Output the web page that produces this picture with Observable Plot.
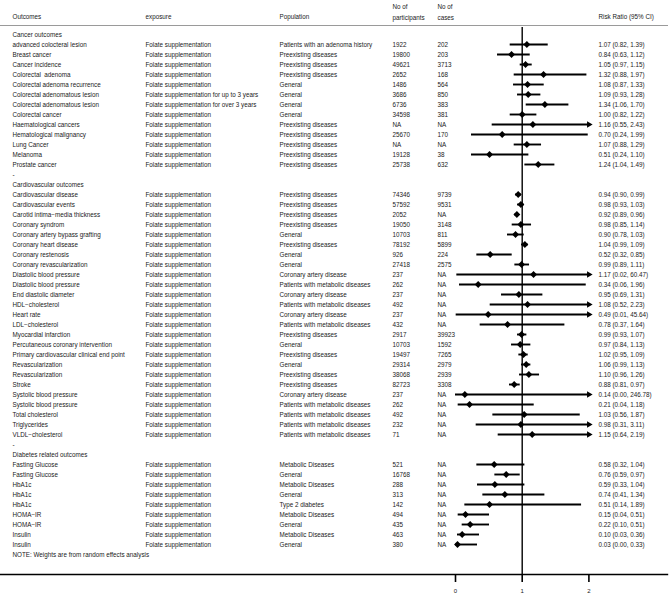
<!DOCTYPE html>
<html>
<head>
<meta charset="utf-8">
<script src="https://cdn.jsdelivr.net/npm/d3@7"></script>
<script src="https://cdn.jsdelivr.net/npm/@observablehq/plot@0.6"></script>
<style>
  html, body { margin: 0; padding: 0; background: #fff; }
  #chart svg { display: block; }
</style>
</head>
<body>
<div id="chart"></div>
<script>
const sections = ["Cancer outcomes", "Cardiovascular outcomes", "Diabetes related outcomes"];
const sectionSizes = [13, 25, 9];

const outcomes = [
  "advanced colocteral lesion", "Breast cancer", "Cancer incidence", "Colorectal  adenoma",
  "Colorectal adenoma recurrence", "Colorectal adenomatous lesion", "Colorectal adenomatous lesion",
  "Colorectal cancer", "Haematological cancers", "Hematological malignancy", "Lung Cancer",
  "Melanoma", "Prostate cancer",
  "Cardiovascular disease", "Cardiovascular events", "Carotid intima\u2212media thickness",
  "Coronary syndrom", "Coronary artery bypass grafting", "Coronary heart disease",
  "Coronary restenosis", "Coronary revascularization", "Diastolic blood pressure",
  "Diastolic blood pressure", "End diastolic diameter", "HDL\u2212cholesterol", "Heart rate",
  "LDL\u2212cholesterol", "Myocardial infarction", "Percutaneous coronary intervention",
  "Primary cardiovascular clinical end point", "Revascularization", "Revascularization",
  "Stroke", "Systolic blood pressure", "Systolic blood pressure", "Total cholesterol",
  "Triglycerides", "VLDL\u2212cholesterol",
  "Fasting Glucose", "Fasting Glucose", "HbA1c", "HbA1c", "HbA1c", "HOMA\u2212IR", "HOMA\u2212IR",
  "Insulin", "Insulin"
];

const FS = "Folate supplementation";
const exposure = [
  FS, FS, FS, FS, FS, "Folate supplementation for up to 3 years", "Folate supplementation for over 3 years",
  FS, FS, FS, FS, FS, FS,
  FS, FS, FS, FS, FS, FS, FS, FS, FS, FS, FS, FS, FS, FS, FS, FS, FS, FS, FS, FS, FS, FS, FS, FS, FS,
  FS, FS, FS, FS, FS, FS, FS, FS, FS
];

const PD = "Preexisting diseases", GE = "General", CAD = "Coronary artery disease",
      PMD = "Patients with metabolic diseases", MD = "Metabolic Diseases";
const population = [
  "Patients with an adenoma history", PD, PD, PD, GE, GE, GE, GE, PD, PD, PD, PD, PD,
  PD, PD, PD, PD, GE, PD, GE, GE, CAD, PMD, CAD, PMD, CAD, PMD, PD, GE, PD, GE, PD, PD,
  CAD, PMD, PMD, PMD, PMD,
  MD, GE, MD, GE, "Type 2 diabetes", MD, GE, MD, GE
];

const participants = [
  "1922", "19800", "49621", "2652", "1486", "3686", "6736", "34598", "NA", "25670", "NA", "19128", "25738",
  "74346", "57592", "2052", "19050", "10703", "78192", "926", "27418", "237", "262", "237", "492", "237",
  "432", "2917", "10703", "19497", "29314", "38068", "82723", "237", "262", "492", "232", "71",
  "521", "16768", "288", "313", "142", "494", "435", "463", "380"
];

const cases = [
  "202", "203", "3713", "168", "564", "850", "383", "381", "NA", "170", "NA", "38", "632",
  "9739", "9531", "NA", "3148", "811", "5899", "224", "2575", "NA", "NA", "NA", "NA", "NA",
  "NA", "39923", "1592", "7265", "2979", "2939", "3308", "NA", "NA", "NA", "NA", "NA",
  "NA", "NA", "NA", "NA", "NA", "NA", "NA", "NA", "NA"
];

const rr = [
  1.07, 0.84, 1.05, 1.32, 1.08, 1.09, 1.34, 1.00, 1.16, 0.70, 1.07, 0.51, 1.24,
  0.94, 0.98, 0.92, 0.98, 0.90, 1.04, 0.52, 0.99, 1.17, 0.34, 0.95, 1.08, 0.49, 0.78, 0.99, 0.97,
  1.02, 1.06, 1.10, 0.88, 0.14, 0.21, 1.03, 0.98, 1.15,
  0.58, 0.76, 0.59, 0.74, 0.51, 0.15, 0.22, 0.10, 0.03
];
const lower = [
  0.82, 0.63, 0.97, 0.88, 0.87, 0.93, 1.06, 0.82, 0.55, 0.24, 0.88, 0.24, 1.04,
  0.90, 0.93, 0.89, 0.85, 0.78, 0.99, 0.32, 0.89, 0.02, 0.06, 0.69, 0.52, 0.01, 0.37, 0.93, 0.84,
  0.95, 0.99, 0.96, 0.81, 0.00, 0.04, 0.56, 0.31, 0.64,
  0.32, 0.59, 0.33, 0.41, 0.14, 0.04, 0.10, 0.03, 0.00
];
const upper = [
  1.39, 1.12, 1.15, 1.97, 1.33, 1.28, 1.70, 1.22, 2.43, 1.99, 1.29, 1.10, 1.49,
  0.99, 1.03, 0.96, 1.14, 1.03, 1.09, 0.85, 1.11, 60.47, 1.96, 1.31, 2.23, 45.64, 1.64, 1.07, 1.13,
  1.09, 1.13, 1.26, 0.97, 246.78, 1.18, 1.87, 3.11, 2.19,
  1.04, 0.97, 1.04, 1.34, 1.89, 0.51, 0.51, 0.36, 0.33
];

const xTicks = [0, 1, 2];
const xMax = 2;

// Build row table from the section structure
const rows = [], heads = [], seps = [];
let idx = 0, k = 0;
sections.forEach((s, si) => {
  heads.push({label: s, row: idx++});
  for (let j = 0; j < sectionSizes[si]; j++, k++) {
    rows.push({
      row: idx++,
      outcome: outcomes[k], exposure: exposure[k], population: population[k],
      participants: participants[k], cases: cases[k],
      rr: rr[k], lo: lower[k], hi: upper[k],
      hiClip: Math.min(upper[k], xMax), clipped: upper[k] > xMax,
      label: `${rr[k].toFixed(2)} (${lower[k].toFixed(2)}, ${upper[k].toFixed(2)})`
    });
  }
  if (si < sections.length - 1) seps.push({label: "-", row: idx++});
});
const lastRow = idx - 1;

const FONT = 6.3;
const TXT = "#1a1a1a";
const col = (field, dx, data = rows) =>
  Plot.text(data, {text: field, y: "row", frameAnchor: "left", dx, textAnchor: "start",
                   fontSize: FONT, fill: TXT});
const head = (text, dx, dy) =>
  Plot.text([text], {frameAnchor: "top-left", dx, dy, textAnchor: "start", fontSize: FONT, fill: TXT});

const chart = Plot.plot({
  width: 669,
  height: 595,
  marginLeft: 0,
  marginRight: 0,
  marginTop: 25,
  marginBottom: 21,
  style: {fontFamily: "'Liberation Sans', Arial, sans-serif", background: "#fff"},
  x: {domain: [-455 / 66.7, (669 - 455) / 66.7], range: [0, 669], axis: null},
  y: {domain: [0, lastRow], range: [34, 34 + 10 * lastRow], axis: null},
  marks: [
    Plot.frame({anchor: "top", stroke: "#9a9a9a", strokeWidth: 1, insetRight: 2}),
    Plot.frame({anchor: "bottom", stroke: "#000", strokeWidth: 1.4, insetRight: 2}),
    Plot.ruleX([1], {stroke: "#000", strokeWidth: 1.4, insetTop: 2}),
    Plot.axisX({ticks: xTicks, tickSize: 8, tickPadding: 6, fontSize: 6, stroke: "#000",
                strokeWidth: 1.6, tickFormat: d3.format("d"), color: TXT}),
    head("Outcomes", 12, -11),
    head("exposure", 145, -11),
    head("Population", 279, -11),
    head("No of", 392, -21),
    head("participants", 392, -10),
    head("No of", 437, -21),
    head("cases", 437, -10),
    head("Risk Ratio (95% CI)", 598, -11),
    col("label", 12, heads),
    col("label", 12, seps),
    col("outcome", 12),
    col("exposure", 145),
    col("population", 279),
    col("participants", 392),
    col("cases", 437),
    col("label", 598),
    Plot.ruleY(rows, {y: "row", x1: "lo", x2: "hiClip", stroke: "#000", strokeWidth: 1.9}),
    Plot.dot(rows.filter(d => d.clipped), {x: "hiClip", y: "row", symbol: "triangle", rotate: 90,
             r: 2.4, fill: "#000", stroke: "none"}),
    Plot.dot(rows, {x: "rr", y: "row", symbol: "diamond2", r: 3.1, fill: "#000", stroke: "none"}),
    Plot.text(["NOTE: Weights are from random effects analysis"], {frameAnchor: "bottom-left",
              dx: 12, dy: -18, textAnchor: "start", fontSize: FONT, fill: TXT})
  ]
});
document.getElementById("chart").append(chart);
</script>
</body>
</html>
